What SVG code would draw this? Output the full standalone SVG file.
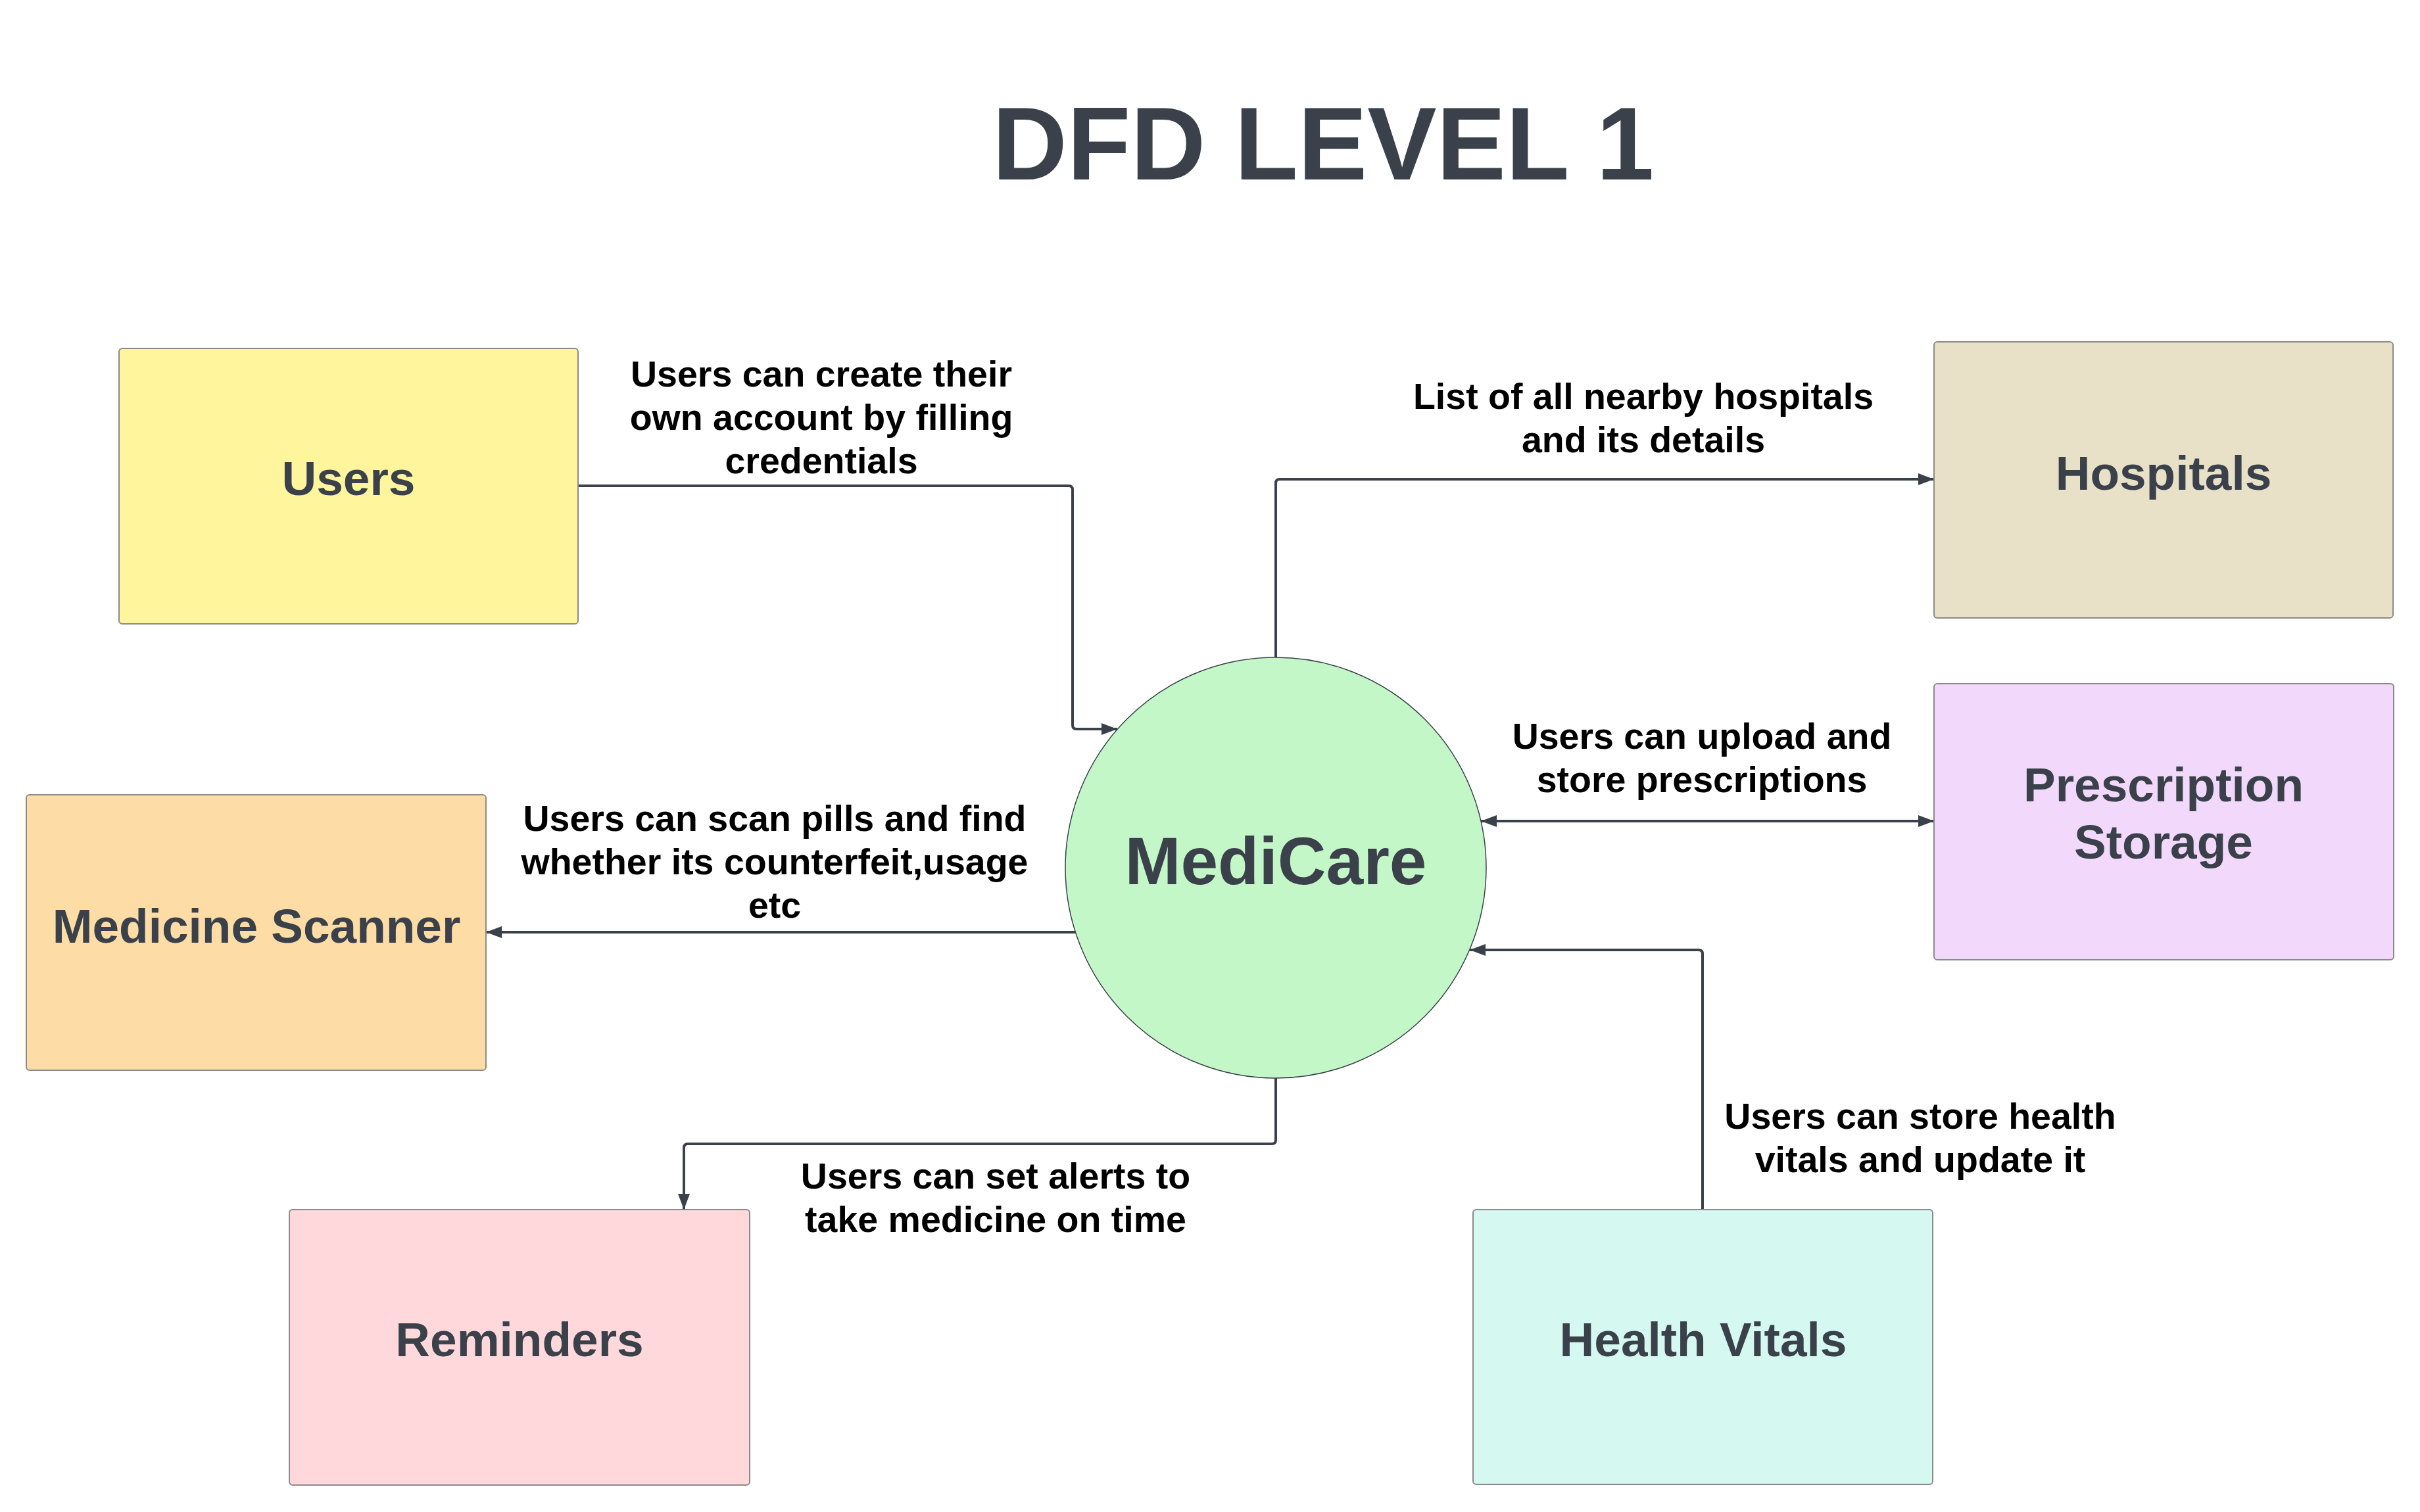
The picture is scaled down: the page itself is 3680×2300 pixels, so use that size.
<svg xmlns="http://www.w3.org/2000/svg" width="3680" height="2300" viewBox="0 0 3680 2300">
<style>
.box{stroke:#8a8a8a;stroke-width:2}
.node{font-family:"Liberation Sans",Arial,sans-serif;font-weight:bold;font-size:73px;fill:#3a414a;text-anchor:middle}
.lbl{font-family:"Liberation Sans",Arial,sans-serif;font-weight:bold;font-size:55.5px;fill:#000;text-anchor:middle}
.conn{fill:none;stroke:#3a414a;stroke-width:4;marker-end:url(#ah)}
</style>
<defs>
<marker id="ah" markerUnits="userSpaceOnUse" markerWidth="24" markerHeight="18" refX="24" refY="9" orient="auto-start-reverse" viewBox="0 0 24 18">
<path d="M0,0 L24,9 L0,18 z" fill="#3a414a"/>
</marker>
</defs>
<rect width="3680" height="2300" fill="#fff"/>
<text x="2012" y="273" font-family="Liberation Sans,Arial,sans-serif" font-weight="bold" font-size="158" fill="#3a414a" text-anchor="middle">DFD LEVEL 1</text>
<g id="connectors">
<path class="conn" d="M880 739 H1625 Q1631 739 1631 745 V1103 Q1631 1109 1637 1109 H1699"/>
<path class="conn" d="M1940 1000 V735 Q1940 729 1946 729 H2941"/>
<path class="conn" d="M2252 1249 H2941" marker-start="url(#ah)"/>
<path class="conn" d="M1635 1418 H739"/>
<path class="conn" d="M1940 1640 V1734 Q1940 1740 1934 1740 H1046 Q1040 1740 1040 1746 V1840"/>
<path class="conn" d="M2589 1840 V1451 Q2589 1445 2583 1445 H2235"/>
<text class="lbl" x="1249" y="588">Users can create their</text>
<text class="lbl" x="1249" y="654">own account by filling</text>
<text class="lbl" x="1249" y="720">credentials</text>
<text class="lbl" x="2499" y="622">List of all nearby hospitals</text>
<text class="lbl" x="2499" y="688">and its details</text>
<text class="lbl" x="1178" y="1264">Users can scan pills and find</text>
<text class="lbl" x="1178" y="1330">whether its counterfeit,usage</text>
<text class="lbl" x="1178" y="1396">etc</text>
<text class="lbl" x="2588" y="1139">Users can upload and</text>
<text class="lbl" x="2588" y="1205">store prescriptions</text>
<text class="lbl" x="2920" y="1717">Users can store health</text>
<text class="lbl" x="2920" y="1783">vitals and update it</text>
<text class="lbl" x="1514" y="1808">Users can set alerts to</text>
<text class="lbl" x="1514" y="1874">take medicine on time</text>
</g>
<g id="users">
<rect class="box" x="181" y="530" width="698" height="419" rx="5" fill="#fff59d"/>
<text class="node" x="530" y="753">Users</text>
</g>
<g id="hospitals">
<rect class="box" x="2941" y="520" width="698" height="420" rx="5" fill="#e8e1c8"/>
<text class="node" x="3290" y="745">Hospitals</text>
</g>
<g id="prescription">
<rect class="box" x="2941" y="1040" width="699" height="420" rx="5" fill="#f2d9fb"/>
<text class="node" x="3290" y="1219">Prescription</text>
<text class="node" x="3290" y="1306">Storage</text>
</g>
<g id="scanner">
<rect class="box" x="40" y="1209" width="699" height="419" rx="5" fill="#fddda5"/>
<text class="node" x="390" y="1434">Medicine Scanner</text>
</g>
<g id="reminders">
<rect class="box" x="440" y="1840" width="700" height="419" rx="5" fill="#fed8db"/>
<text class="node" x="790" y="2063">Reminders</text>
</g>
<g id="vitals">
<rect class="box" x="2240" y="1840" width="699" height="418" rx="5" fill="#d5f8f1"/>
<text class="node" x="2590" y="2063">Health Vitals</text>
</g>
<g id="medicare">
<circle cx="1940" cy="1320" r="320" fill="#c3f7c8" stroke="#3a414a" stroke-width="1.5"/>
<text class="node" x="1940" y="1345" style="font-size:102px">MediCare</text>
</g>
</svg>
